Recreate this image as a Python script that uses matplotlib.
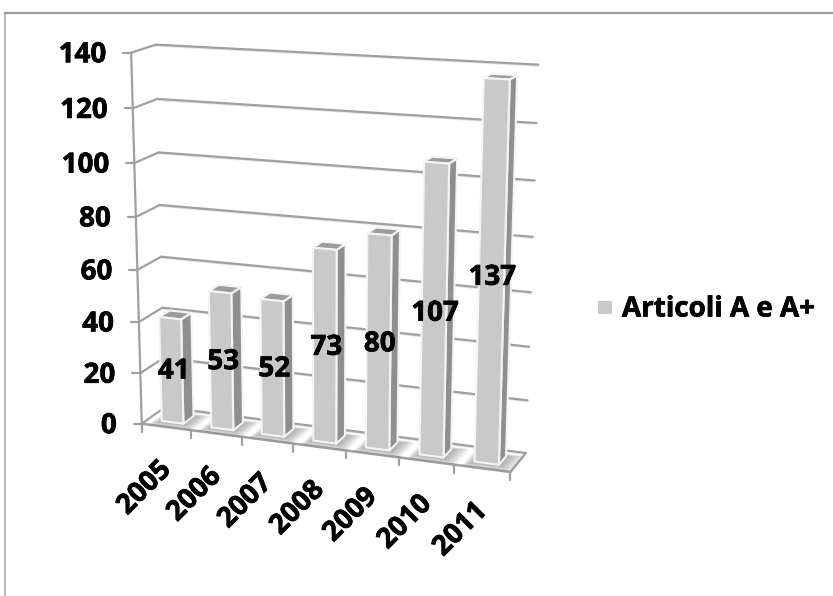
import numpy as np
import matplotlib
matplotlib.use("Agg")
import matplotlib.pyplot as plt
from matplotlib.patches import Polygon
import matplotlib.patheffects as pe

years = ["2005", "2006", "2007", "2008", "2009", "2010", "2011"]
articoli = [41, 53, 52, 73, 80, 107, 137]
value_ticks = [0, 20, 40, 60, 80, 100, 120, 140]
series_name = "Articoli A e A+"

W, H = 833, 596
GRID = "#A0A0A0"
FACE, SIDE, CAP = "#C9C9C9", "#8F8F8F", "#9C9C9C"
FONT = dict(family="Open Sans", fontweight="bold", color="black",
            path_effects=[pe.withStroke(linewidth=0.5, foreground="black")])
SIZE = 20

# Camera calibration: (category, depth, value) -> picture position
calib = [
    ((0, 0, 0), (143, 423)), ((1, 0, 0), (192, 430)), ((2, 0, 0), (242, 437)),
    ((3, 0, 0), (293, 444)), ((4, 0, 0), (346, 451)), ((5, 0, 0), (399, 458)),
    ((6, 0, 0), (454, 465)), ((7, 0, 0), (510, 472)),
    ((0, 1, 0), (162, 408)), ((7, 1, 0), (526, 452)),
    ((0, 0, 140), (130, 53)), ((0, 0, 120), (132, 108)), ((0, 0, 100), (134, 163)),
    ((0, 0, 80), (136, 217)), ((0, 0, 60), (138, 269)),
    ((0, 1, 140), (156, 45)), ((0, 1, 120), (157, 99)), ((0, 1, 100), (159, 153)),
    ((0, 1, 80), (161, 205)), ((0, 1, 60), (162, 256)),
    ((7, 1, 140), (538, 65)), ((7, 1, 120), (537, 123)), ((7, 1, 100), (535, 180)),
    ((7, 1, 80), (533, 237)), ((7, 1, 60), (531, 292)),
]
A = []
b = []
for (u, d, w), (x, y) in calib:
    A.append([u, d, w, 1, 0, 0, 0, 0, -x * u, -x * d, -x * w]); b.append(x)
    A.append([0, 0, 0, 0, u, d, w, 1, -y * u, -y * d, -y * w]); b.append(y)
sol = np.linalg.lstsq(np.array(A, float), np.array(b, float), rcond=None)[0]
M = np.append(sol, 1.0).reshape(3, 4)


def P(u, d, w):
    v = M @ np.array([u, d, w, 1.0])
    return v[0] / v[2], v[1] / v[2]


fig = plt.figure(figsize=(W / 100, H / 100), dpi=100)
ax = fig.add_axes([0, 0, 1, 1])
ax.set_xlim(0, W)
ax.set_ylim(H, 0)
ax.axis("off")


def line(p, q, color=GRID, lw=1.6, z=2):
    ax.plot([p[0], q[0]], [p[1], q[1]], color=color, lw=lw, zorder=z,
            solid_capstyle="round")


# outer frame
ax.plot([5, 5], [H, 13], color="#ABABAB", lw=1.2, zorder=1)
ax.plot([5, W], [13, 13], color="#9A9A9A", lw=1.6, zorder=1)

# walls and value ticks
for t in value_ticks:
    line((P(0, 0, t)[0] - 8, P(0, 0, t)[1]), P(0, 0, t))
    line(P(0, 0, t), P(0, 1, t))
    a, c = P(0, 1, t), P(7, 1, t)
    line((a[0], a[1] + 1.3), (c[0], c[1] + 1.3), color="#E4E4E4", lw=1, z=1.9)
    line(a, c)
    x, y = P(0, 0, t)
    ax.text(x - 25, y + 2, str(t), ha="right", va="center", fontsize=SIZE, zorder=6, **FONT)
line(P(0, 0, 0), P(0, 0, 140))

# floor
line(P(7, 0, 0), P(7, 1, 0))
line(P(0, 0, 0), P(7, 0, 0), lw=1.8)
for i in range(len(years) + 1):
    x, y = P(i, 0, 0)
    line((x, y), (x, y + 8))

# shadows, then bars
half_u, d0, d1 = 0.22, 0.27, 0.72
for i, val in enumerate(articoli):
    c = i + 0.5
    for e in np.linspace(0.30, 0.02, 9):
        shadow = [P(c - half_u - e * 0.5, d0 - e, 0), P(c + half_u + e, d0 - e, 0),
                  P(c + half_u + e, d1 + e * 0.4, 0), P(c - half_u - e * 0.5, d1 + e * 0.4, 0)]
        ax.add_patch(Polygon(shadow, closed=True, fc="#606060", ec="none", alpha=0.075, zorder=3))

for i, val in enumerate(articoli):
    c = i + 0.5
    l, r = c - half_u, c + half_u
    faces = [
        ([P(r, d0, 0), P(r, d1, 0), P(r, d1, val), P(r, d0, val)], SIDE),
        ([P(l, d0, val), P(r, d0, val), P(r, d1, val), P(l, d1, val)], CAP),
        ([P(l, d0, 0), P(r, d0, 0), P(r, d0, val), P(l, d0, val)], FACE),
    ]
    for pts, col in faces:
        ax.add_patch(Polygon(pts, closed=True, fc=col, ec="#F4F4F4", lw=1.5,
                             joinstyle="round", zorder=4 + i * 0.01))
    x, y = P(c, 0.5, val / 2)
    ax.text(x - 3, y + 4, str(val), ha="center", va="center", fontsize=SIZE, zorder=7, **FONT)
    fx, fy = P(c, 0, 0)
    ax.text(fx - 22, fy + 61, years[i], ha="center", va="center", rotation=45,
            rotation_mode="anchor", fontsize=SIZE, zorder=7, **FONT)

# legend
ax.add_patch(Polygon([(598, 301), (612, 301), (612, 314), (598, 314)], closed=True,
                     fc=FACE, ec="none", zorder=6))
ax.text(622, 309, series_name, ha="left", va="center", fontsize=SIZE, zorder=7, **FONT)

fig.savefig("out.png", dpi=100, facecolor="white")
